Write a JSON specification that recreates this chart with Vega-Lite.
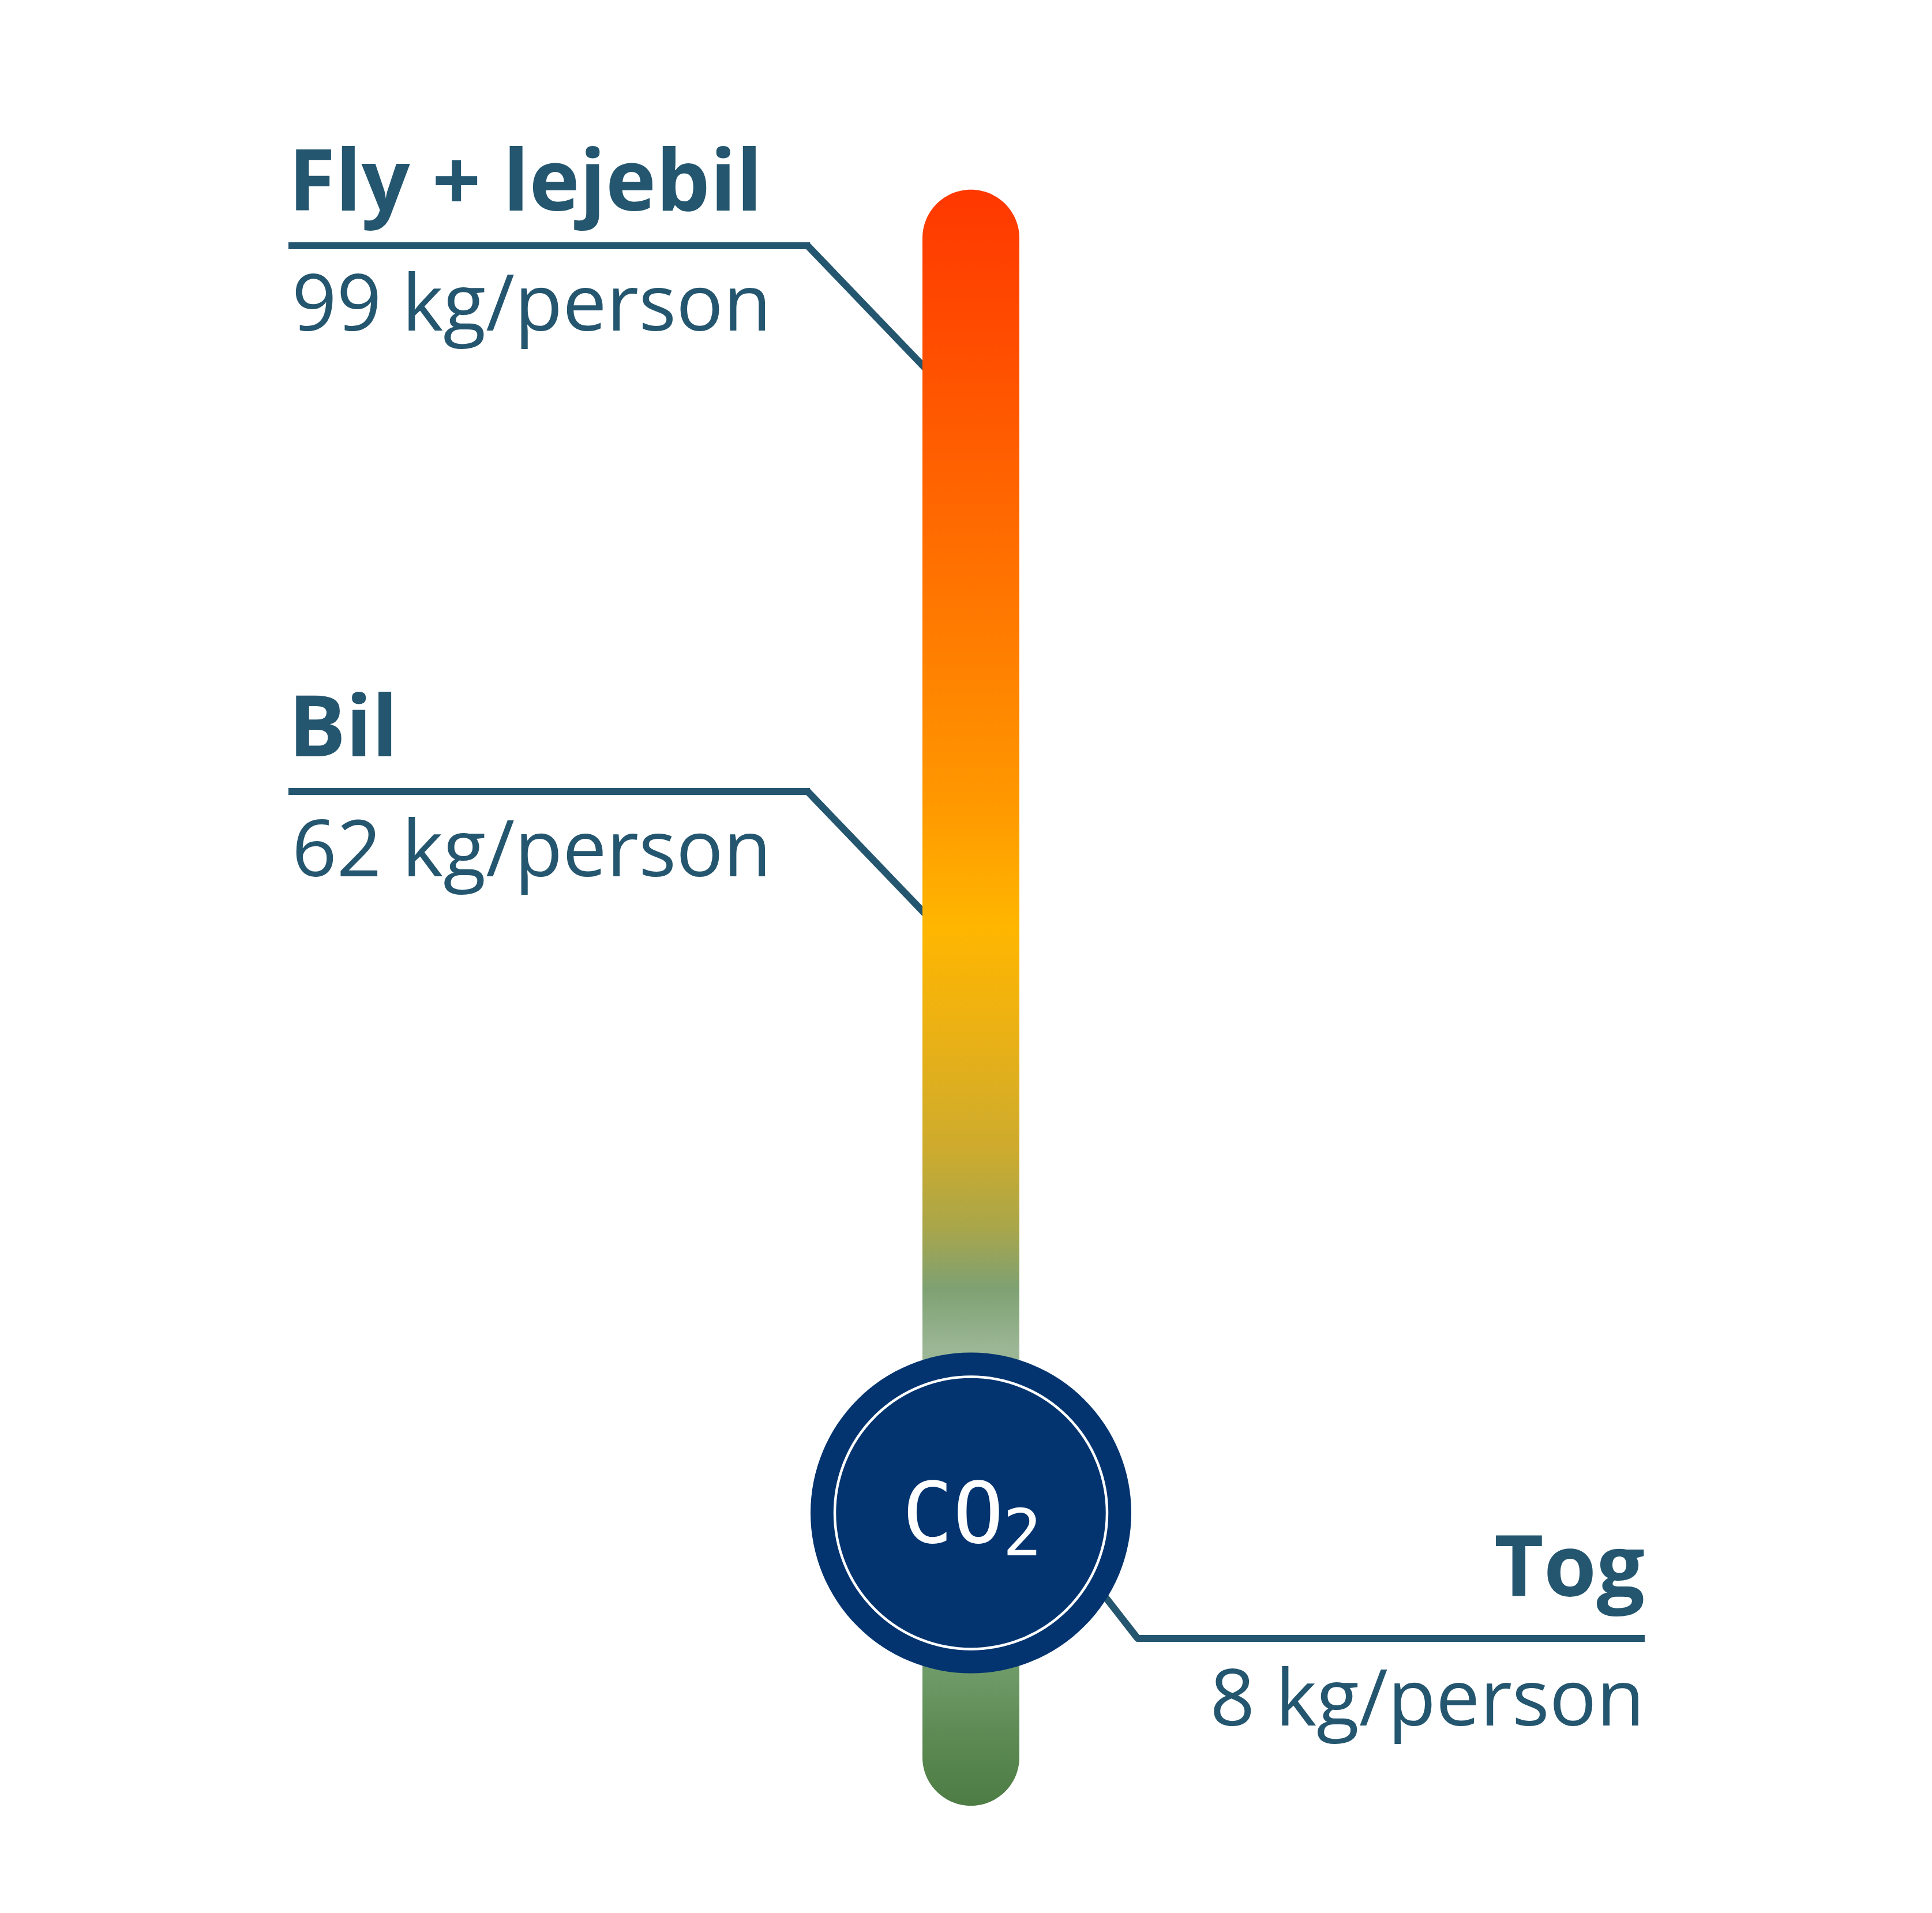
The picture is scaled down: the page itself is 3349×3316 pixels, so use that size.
{
  "$schema": "https://vega.github.io/schema/vega-lite/v6.json",
  "width": 3349,
  "height": 3316,
  "autosize": {"type": "fit", "contains": "padding"},
  "padding": 0,
  "background": "white",
  "config": {"view": {"stroke": null}, "axis": {"disable": true}},
  "data": {"values": [
    {"mode": "Fly + lejebil", "kg": 99, "label": "99 kg/person", "side": "left"},
    {"mode": "Bil", "kg": 62, "label": "62 kg/person", "side": "left"},
    {"mode": "Tog", "kg": 8, "label": "8 kg/person", "side": "right"}
  ]},
  "encoding": {
    "y": {"field": "kg", "type": "quantitative", "axis": null,
          "scale": {"domain": [8, 62, 99], "range": [2840, 1372, 426], "zero": false, "nice": false}}
  },
  "layer": [
    {
      "transform": [{"filter": "datum.side === 'left'"}],
      "mark": {"type": "rule", "stroke": "#24566F", "strokeWidth": 12, "strokeCap": "butt"},
      "encoding": {
        "x": {"datum": 500, "type": "quantitative", "axis": null, "scale": {"domain": [0, 3349], "zero": false, "nice": false}},
        "x2": {"datum": 1404}
      }
    },
    {
      "transform": [{"filter": "datum.side === 'left'"}],
      "mark": {"type": "rule", "stroke": "#24566F", "strokeWidth": 12, "strokeCap": "round", "y2Offset": 250},
      "encoding": {
        "x": {"datum": 1400, "type": "quantitative", "axis": null},
        "x2": {"datum": 1640},
        "y2": {"field": "kg"}
      }
    },
    {
      "transform": [{"filter": "datum.side === 'right'"}],
      "mark": {"type": "rule", "stroke": "#24566F", "strokeWidth": 12, "strokeCap": "butt"},
      "encoding": {
        "x": {"datum": 1970, "type": "quantitative", "axis": null},
        "x2": {"datum": 2851}
      }
    },
    {
      "transform": [{"filter": "datum.side === 'right'"}],
      "mark": {"type": "rule", "stroke": "#24566F", "strokeWidth": 12, "strokeCap": "round", "y2Offset": -118},
      "encoding": {
        "x": {"datum": 1972, "type": "quantitative", "axis": null},
        "x2": {"datum": 1880},
        "y2": {"field": "kg"}
      }
    },
    {
      "transform": [{"filter": "datum.side === 'right'"}],
      "mark": {
        "type": "rect",
        "cornerRadius": 84,
        "opacity": 1,
        "color": {
          "gradient": "linear", "x1": 0, "y1": 0, "x2": 0, "y2": 1,
          "stops": [
            {"offset": 0, "color": "#FF3800"},
            {"offset": 0.092, "color": "#FF4C00"},
            {"offset": 0.188, "color": "#FF6500"},
            {"offset": 0.284, "color": "#FF7E00"},
            {"offset": 0.379, "color": "#FF9800"},
            {"offset": 0.456, "color": "#FFB600"},
            {"offset": 0.523, "color": "#EAB115"},
            {"offset": 0.594, "color": "#CDAB2E"},
            {"offset": 0.642, "color": "#A9A64A"},
            {"offset": 0.68, "color": "#7EA172"},
            {"offset": 0.718, "color": "#9CB796"},
            {"offset": 0.918, "color": "#6E9A68"},
            {"offset": 0.954, "color": "#5E8B54"},
            {"offset": 1, "color": "#4D7C44"}
          ]
        }
      },
      "encoding": {
        "x": {"datum": 1599, "type": "quantitative", "axis": null},
        "x2": {"datum": 1767},
        "y": {"datum": 102.8, "type": "quantitative", "axis": null},
        "y2": {"datum": -2.67}
      }
    },
    {
      "transform": [{"filter": "datum.side === 'right'"}],
      "mark": {"type": "point", "shape": "circle", "filled": true, "color": "#03346F", "opacity": 1, "size": 309136},
      "encoding": {
        "x": {"datum": 1683, "type": "quantitative", "axis": null},
        "y": {"datum": 16, "type": "quantitative", "axis": null}
      }
    },
    {
      "transform": [{"filter": "datum.side === 'right'"}],
      "mark": {"type": "point", "shape": "circle", "filled": false, "color": "white", "opacity": 1, "size": 222784, "strokeWidth": 4.5},
      "encoding": {
        "x": {"datum": 1683, "type": "quantitative", "axis": null},
        "y": {"datum": 16, "type": "quantitative", "axis": null}
      }
    },
    {
      "transform": [{"filter": "datum.side === 'right'"}],
      "mark": {"type": "text", "text": "CO", "font": "DejaVu Sans Mono", "fontSize": 146, "fill": "white", "align": "center", "baseline": "alphabetic", "dy": 51},
      "encoding": {
        "x": {"datum": 1652, "type": "quantitative", "axis": null},
        "y": {"datum": 16, "type": "quantitative", "axis": null}
      }
    },
    {
      "transform": [{"filter": "datum.side === 'right'"}],
      "mark": {"type": "text", "text": "2", "font": "DejaVu Sans Mono", "fontSize": 112, "fill": "white", "align": "center", "baseline": "alphabetic", "dy": 73},
      "encoding": {
        "x": {"datum": 1772, "type": "quantitative", "axis": null},
        "y": {"datum": 16, "type": "quantitative", "axis": null}
      }
    },
    {
      "transform": [{"filter": "datum.side === 'left'"}],
      "mark": {"type": "text", "font": "Open Sans", "fontWeight": "bold", "fontSize": 148, "fill": "#24566F", "align": "left", "baseline": "alphabetic", "dy": -61},
      "encoding": {
        "x": {"datum": 500, "type": "quantitative", "axis": null},
        "text": {"field": "mode"}
      }
    },
    {
      "transform": [{"filter": "datum.side === 'left'"}],
      "mark": {"type": "text", "font": "Open Sans", "fontSize": 136, "fill": "#24566F", "align": "left", "baseline": "alphabetic", "dy": 147},
      "encoding": {
        "x": {"datum": 506, "type": "quantitative", "axis": null},
        "text": {"field": "label"}
      }
    },
    {
      "transform": [{"filter": "datum.side === 'right'"}],
      "mark": {"type": "text", "font": "Open Sans", "fontWeight": "bold", "fontSize": 148, "fill": "#24566F", "align": "right", "baseline": "alphabetic", "dy": -73},
      "encoding": {
        "x": {"datum": 2851, "type": "quantitative", "axis": null},
        "text": {"field": "mode"}
      }
    },
    {
      "transform": [{"filter": "datum.side === 'right'"}],
      "mark": {"type": "text", "font": "Open Sans", "fontSize": 136, "fill": "#24566F", "align": "right", "baseline": "alphabetic", "dy": 151},
      "encoding": {
        "x": {"datum": 2851, "type": "quantitative", "axis": null},
        "text": {"field": "label"}
      }
    }
  ]
}
